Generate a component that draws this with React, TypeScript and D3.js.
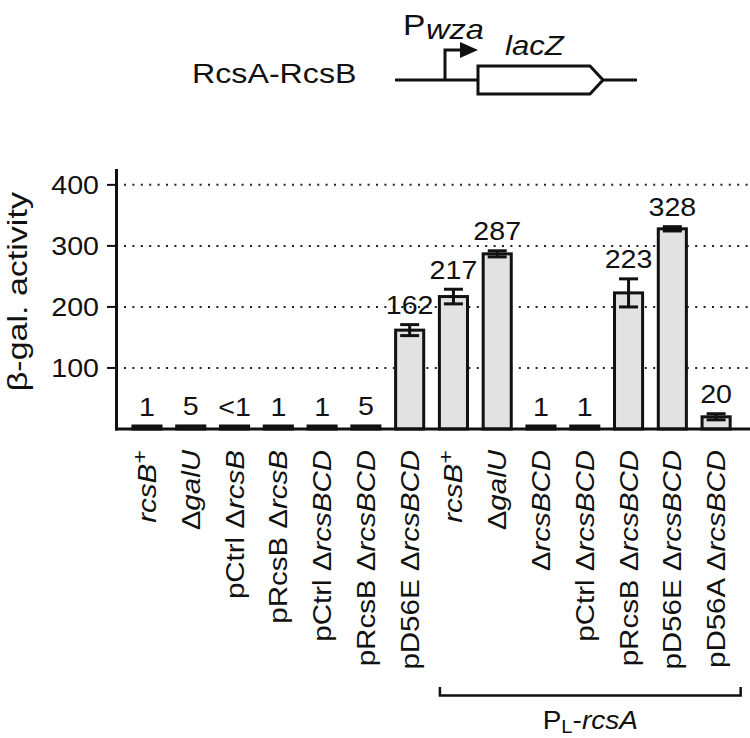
import React from 'react';
import * as d3 from 'd3';

const categories = [
  "_rcsB_^+", "Δ_galU_", "pCtrl Δ_rcsB_", "pRcsB Δ_rcsB_", "pCtrl Δ_rcsBCD_",
  "pRcsB Δ_rcsBCD_", "pD56E Δ_rcsBCD_", "_rcsB_^+", "Δ_galU_", "Δ_rcsBCD_",
  "pCtrl Δ_rcsBCD_", "pRcsB Δ_rcsBCD_", "pD56E Δ_rcsBCD_", "pD56A Δ_rcsBCD_",
];
const values = [1, 5, 0.5, 1, 1, 5, 162, 217, 287, 1, 1, 223, 328, 20];
const errors = [0, 0, 0, 0, 0, 0, 9, 12, 5, 0, 0, 23, 3.5, 5];
const valueLabels = ["1", "5", "<1", "1", "1", "5", "162", "217", "287", "1", "1", "223", "328", "20"];
const yTicks = [100, 200, 300, 400];
const groupStart = 7;
const groupEnd = 13;

const FONT = "'Liberation Sans', Arial, Helvetica, sans-serif";

type Seg = { t: string; it: boolean; sup: boolean };
function parse(s: string): Seg[] {
  const out: Seg[] = [];
  let it = false, sup = false, cur = "";
  const push = () => { if (cur) out.push({ t: cur, it, sup }); cur = ""; };
  for (const ch of s) {
    if (ch === "_") { push(); it = !it; }
    else if (ch === "^") { push(); sup = true; it = false; }
    else cur += ch;
  }
  push();
  return out;
}

export default function App() {
  const W = 750, H = 738;
  const x = d3.scaleBand<number>()
    .domain(d3.range(categories.length))
    .range([125.1, 738])
    .paddingInner(0.29)
    .paddingOuter(0.145);
  const y = d3.scaleLinear().domain([0, 426]).range([429, 169]);
  const bw = x.bandwidth();
  const axisX = 116.5;
  const baseY = y(0);
  const sw = 3;
  const minH = 3;

  const bracketL = (x(groupStart) as number) + 2;
  const bracketR = (x(groupEnd) as number) + bw + 9;

  return (
    <svg width={W} height={H} style={{ position: 'absolute', left: 0, top: 0, background: '#fff' }}
      fontFamily={FONT}>
      {/* top schematic */}
      <g>
        <text transform="translate(192,83) scale(1.15,1)" fontSize={28} fill="#111">RcsA-RcsB</text>
        <line x1={395} y1={80} x2={637} y2={80} stroke="#111" strokeWidth={3} />
        <path d="M445,80 V50 H462" fill="none" stroke="#111" strokeWidth={3} />
        <path d="M460,42 L478,50 L460,58 Z" fill="#111" />
        <path d="M478,66 H590 L603,80 L590,94 H478 Z" fill="#fff" stroke="#111" strokeWidth={3} />
        <text transform="translate(403,35) scale(1.12,1)" fontSize={30} fill="#111">P</text>
        <text transform="translate(426,39) scale(1.16,1)" fontSize={28} fontStyle="italic" fill="#111">wza</text>
        <text transform="translate(505,55) scale(1.15,1)" fontSize={27} fontStyle="italic" fill="#111">lacZ</text>
      </g>

      {/* gridlines */}
      {yTicks.map(t => (
        <line key={'g' + t} x1={124} x2={W} y1={y(t)} y2={y(t)} stroke="#222" strokeWidth={2}
          strokeDasharray="2 6.4" />
      ))}

      {/* bars */}
      {values.map((v, i) => {
        const top = Math.min(y(v), baseY - minH);
        return (
          <rect key={'b' + i} x={(x(i) as number) + sw / 2} width={bw - sw}
            y={top} height={baseY - top} fill="#e2e2e2" stroke="#111" strokeWidth={sw} />
        );
      })}

      {/* error bars */}
      {values.map((v, i) => {
        const e = errors[i];
        if (!e) return null;
        const cx = (x(i) as number) + bw / 2;
        const cap = 19;
        return (
          <g key={'e' + i} stroke="#111" strokeWidth={3}>
            <line x1={cx} x2={cx} y1={y(v + e)} y2={y(v - e)} />
            <line x1={cx - cap / 2} x2={cx + cap / 2} y1={y(v + e)} y2={y(v + e)} />
            <line x1={cx - cap / 2} x2={cx + cap / 2} y1={y(v - e)} y2={y(v - e)} />
          </g>
        );
      })}

      {/* value labels */}
      {values.map((v, i) => {
        const cx = (x(i) as number) + bw / 2;
        const top = Math.min(y(v + errors[i]), baseY - minH);
        const ty = top - 1.5 - 9;
        return (
          <text key={'v' + i} transform={`translate(${cx},${ty}) scale(1.1,1)`} textAnchor="middle"
            fontSize={26} fill="#111">{valueLabels[i]}</text>
        );
      })}

      {/* axes */}
      <line x1={axisX} x2={axisX} y1={y(426)} y2={baseY + 1.5} stroke="#111" strokeWidth={3} />
      <line x1={axisX - 1.5} x2={W} y1={baseY} y2={baseY} stroke="#111" strokeWidth={3} />
      {yTicks.map(t => (
        <g key={'t' + t}>
          <line x1={107} x2={axisX} y1={y(t)} y2={y(t)} stroke="#111" strokeWidth={2} />
          <text transform={`translate(99,${y(t)}) scale(1.1,1)`} dy="0.36em" textAnchor="end"
            fontSize={26} fill="#111">{t}</text>
        </g>
      ))}
      <text transform={`translate(27,${y(225)}) rotate(-90) scale(1.26,1)`} textAnchor="middle"
        fontSize={27} fill="#111">β-gal. activity</text>

      {/* x labels */}
      {categories.map((c, i) => {
        const cx = (x(i) as number) + bw / 2;
        const segs = parse(c);
        return (
          <text key={'x' + i} transform={`translate(${cx + 9},450) rotate(-90) scale(1.18,1)`}
            textAnchor="end" fontSize={25} fill="#111">
            {segs.map((s, j) => (
              <tspan key={j} fontStyle={s.it ? 'italic' : 'normal'}
                fontSize={s.sup ? 20 : 25} dy={s.sup ? -9 : 0}>{s.t}</tspan>
            ))}
          </text>
        );
      })}

      {/* bracket */}
      <path d={`M${bracketL},687 V695.5 H${bracketR} V687`} fill="none" stroke="#111" strokeWidth={2.5} />
      <text transform={`translate(${(bracketL + bracketR) / 2},729) scale(1.12,1)`} textAnchor="middle"
        fontSize={25} fill="#111">
        <tspan>P</tspan>
        <tspan fontSize={18} dy={4}>L</tspan>
        <tspan dy={-4}>-</tspan>
        <tspan fontStyle="italic">rcsA</tspan>
      </text>
    </svg>
  );
}
